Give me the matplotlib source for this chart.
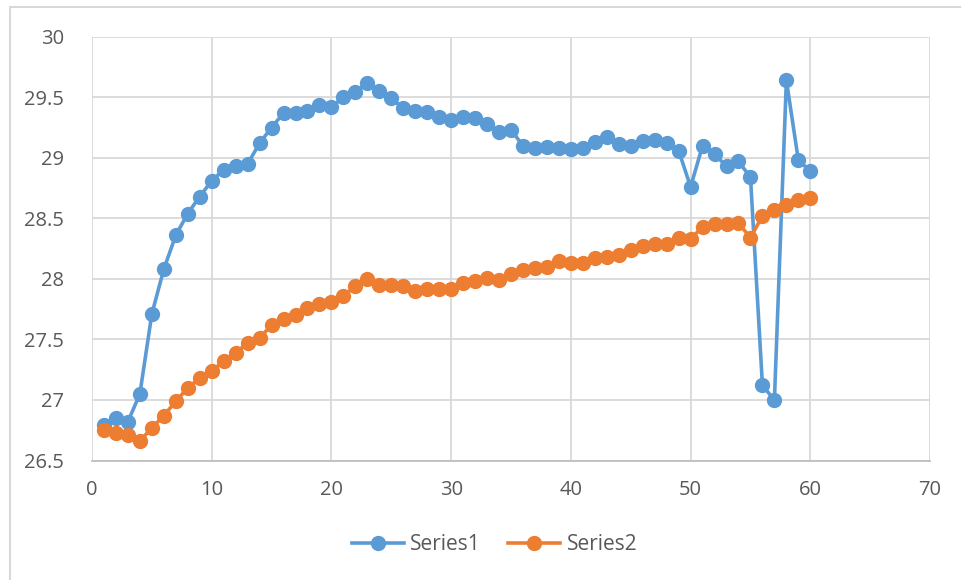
import numpy as np
import matplotlib.pyplot as plt
from matplotlib.patches import Rectangle

plt.rcParams['font.family'] = ['Open Sans', 'DejaVu Sans']

x = np.arange(1, 61)
series1 = [26.79, 26.85, 26.82, 27.05, 27.71, 28.08, 28.36, 28.54, 28.68, 28.81,
           28.90, 28.93, 28.95, 29.12, 29.25, 29.37, 29.37, 29.39, 29.44, 29.42,
           29.50, 29.54, 29.62, 29.55, 29.49, 29.41, 29.39, 29.38, 29.34, 29.31,
           29.34, 29.33, 29.28, 29.21, 29.23, 29.10, 29.08, 29.09, 29.08, 29.07,
           29.08, 29.13, 29.17, 29.11, 29.10, 29.14, 29.15, 29.12, 29.06, 28.76,
           29.10, 29.03, 28.93, 28.97, 28.84, 27.12, 27.00, 29.64, 28.98, 28.89]
series2 = [26.75, 26.73, 26.71, 26.66, 26.77, 26.87, 26.99, 27.10, 27.18, 27.24,
           27.32, 27.39, 27.47, 27.51, 27.62, 27.67, 27.70, 27.76, 27.79, 27.81,
           27.86, 27.94, 28.00, 27.95, 27.95, 27.94, 27.90, 27.92, 27.92, 27.92,
           27.97, 27.98, 28.01, 27.99, 28.04, 28.07, 28.09, 28.10, 28.15, 28.13,
           28.13, 28.17, 28.18, 28.20, 28.24, 28.27, 28.29, 28.29, 28.34, 28.33,
           28.43, 28.45, 28.45, 28.46, 28.34, 28.52, 28.57, 28.61, 28.65, 28.67]

grid_c = '#d9d9d9'
text_c = '#595959'

fig = plt.figure(figsize=(9.61, 5.8), dpi=100)
ax = fig.add_axes([0.0957, 0.206, 0.8721, 0.7307])

# chart area frame (top and left edges only show)
fig.patches.append(Rectangle((10 / 961, -0.1), 1.2, 1 - 7 / 580 + 0.1,
                             transform=fig.transFigure, fill=False,
                             edgecolor=grid_c, linewidth=1.5))

ax.plot(x, series1, color='#5B9BD5', linewidth=2.6, marker='o',
        markersize=10, label='Series1', zorder=3)
ax.plot(x, series2, color='#ED7D31', linewidth=2.6, marker='o',
        markersize=10, label='Series2', zorder=3)

ax.set_xlim(0, 70)
ax.set_ylim(26.5, 30)
ax.set_xticks(np.arange(0, 71, 10))
ax.set_yticks(np.arange(26.5, 30.01, 0.5))
ax.set_yticklabels(['26.5', '27', '27.5', '28', '28.5', '29', '29.5', '30'])
ax.grid(True, color=grid_c, linewidth=1.3, zorder=0)
for s in ax.spines.values():
    s.set_visible(False)
ax.spines['bottom'].set_visible(True)
ax.spines['bottom'].set_color('#bfbfbf')
ax.spines['bottom'].set_linewidth(1.3)
ax.tick_params(length=0, labelsize=14.5, colors=text_c, pad=14)
ax.tick_params(axis='y', pad=20)

leg = fig.legend(loc='center', bbox_to_anchor=(0.5146, 1 - 545 / 580), ncol=2,
                 frameon=False, fontsize=15, handlelength=2.5,
                 columnspacing=1.3, handletextpad=0.3)
for t in leg.get_texts():
    t.set_color(text_c)

fig.savefig('out.png', dpi=100)
